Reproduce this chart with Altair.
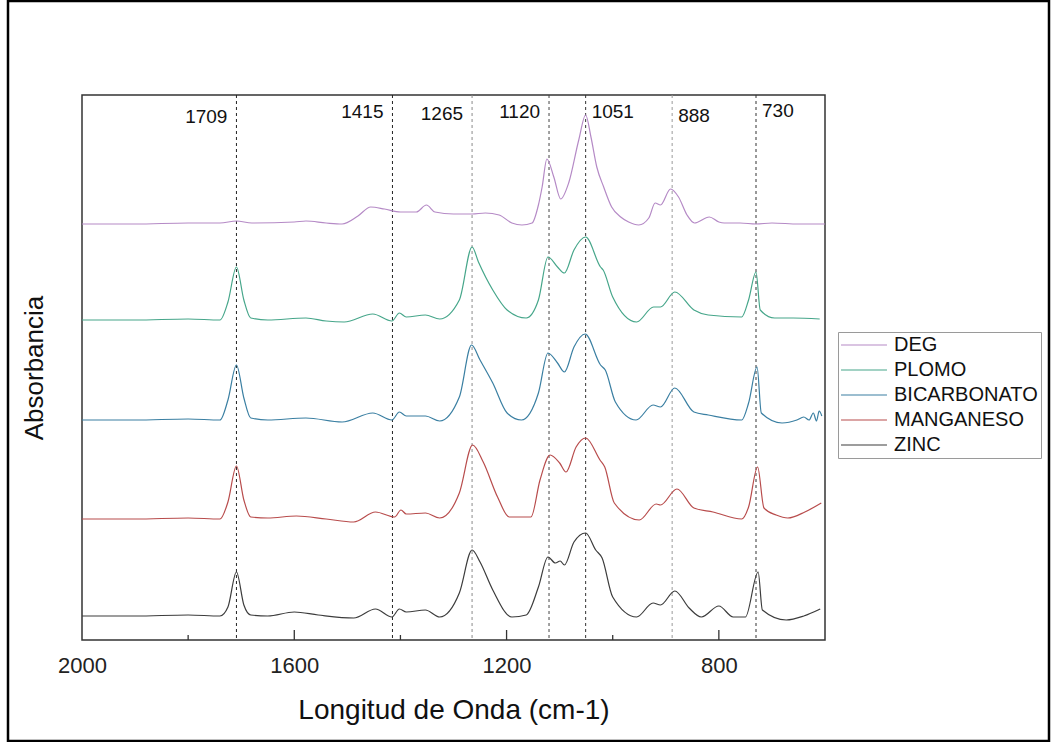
import altair as alt
import pandas as pd

# ---------------- data ----------------
series_names = ["DEG", "PLOMO", "BICARBONATO", "MANGANESO", "ZINC"]
series_colors = ["#b58ac6", "#46a68a", "#3a7fa2", "#b84c4c", "#3c3c3c"]

deg_wn = [2000, 1900, 1800, 1740, 1709, 1680, 1600, 1578, 1540, 1510, 1480, 1456, 1430, 1400,
          1370, 1351, 1335, 1300, 1265, 1240, 1214, 1190, 1171, 1152, 1140, 1133, 1124, 1111,
          1098, 1083, 1064, 1051, 1041, 1030, 1017, 1002, 985, 970, 951, 932, 920, 910, 891,
          876, 860, 846, 818, 800, 790, 760, 730, 700, 650, 600]
deg_abs = [4.16, 4.16, 4.17, 4.17, 4.19, 4.17, 4.18, 4.19, 4.17, 4.16, 4.24, 4.33, 4.31, 4.28,
           4.28, 4.35, 4.28, 4.26, 4.26, 4.27, 4.25, 4.17, 4.15, 4.17, 4.35, 4.53, 4.81, 4.63,
           4.41, 4.57, 5.00, 5.25, 5.03, 4.73, 4.53, 4.33, 4.23, 4.18, 4.15, 4.22, 4.37, 4.35, 4.51,
           4.43, 4.25, 4.17, 4.23, 4.18, 4.17, 4.17, 4.16, 4.17, 4.16, 4.16]

plomo_wn = [2000, 1900, 1800, 1740, 1725, 1709, 1695, 1682, 1650, 1578, 1540, 1506, 1452, 1416,
            1402, 1389, 1353, 1326, 1289, 1265, 1253, 1226, 1199, 1163, 1140, 1122, 1104, 1091,
            1073, 1051, 1023, 1018, 1000, 955, 923, 910, 883, 847, 820, 757, 744, 730, 722, 695,
            660, 610]
plomo_abs = [3.20, 3.20, 3.21, 3.20, 3.38, 3.73, 3.40, 3.22, 3.20, 3.22, 3.19, 3.18, 3.26, 3.19,
             3.27, 3.23, 3.25, 3.21, 3.40, 3.93, 3.78, 3.50, 3.30, 3.22, 3.40, 3.83, 3.73, 3.67,
             3.90, 4.03, 3.73, 3.70, 3.43, 3.18, 3.33, 3.33, 3.48, 3.30, 3.25, 3.23, 3.40, 3.68,
             3.30, 3.22, 3.22, 3.21]

bicarb_wn = [2000, 1900, 1800, 1740, 1725, 1709, 1695, 1682, 1650, 1578, 1510, 1452, 1416, 1402,
             1389, 1353, 1326, 1289, 1266, 1250, 1226, 1199, 1172, 1140, 1122, 1104, 1091, 1073,
             1052, 1023, 1014, 995, 956, 924, 910, 883, 847, 820, 757, 744, 728, 720, 681, 653,
             640, 630, 622, 616, 611, 606]
bicarb_abs = [2.20, 2.20, 2.21, 2.20, 2.40, 2.75, 2.42, 2.22, 2.20, 2.22, 2.18, 2.27, 2.20, 2.28,
              2.24, 2.24, 2.19, 2.43, 2.95, 2.80, 2.57, 2.27, 2.20, 2.47, 2.87, 2.77, 2.68, 2.93,
              3.06, 2.75, 2.70, 2.38, 2.20, 2.35, 2.33, 2.52, 2.28, 2.25, 2.20, 2.37, 2.73, 2.27,
              2.17, 2.20, 2.23, 2.20, 2.27, 2.19, 2.29, 2.24]

mang_wn = [2000, 1900, 1800, 1740, 1725, 1709, 1695, 1682, 1650, 1596, 1540, 1488, 1447, 1411,
           1399, 1389, 1353, 1326, 1289, 1264, 1244, 1217, 1195, 1154, 1137, 1118, 1100, 1088,
           1069, 1051, 1024, 1015, 997, 950, 918, 910, 879, 847, 811, 757, 744, 727, 715, 692,
           670, 638, 607]
mang_abs = [1.21, 1.21, 1.22, 1.21, 1.38, 1.74, 1.40, 1.23, 1.22, 1.24, 1.21, 1.18, 1.28, 1.23,
            1.30, 1.26, 1.27, 1.22, 1.47, 1.95, 1.78, 1.43, 1.23, 1.23, 1.60, 1.85, 1.77, 1.68,
            1.93, 2.02, 1.80, 1.73, 1.37, 1.20, 1.36, 1.35, 1.51, 1.32, 1.28, 1.21, 1.33, 1.73,
            1.32, 1.25, 1.22, 1.28, 1.37]

zinc_wn = [2000, 1900, 1800, 1740, 1725, 1709, 1695, 1682, 1650, 1600, 1555, 1488, 1447, 1416,
           1402, 1389, 1353, 1326, 1289, 1265, 1250, 1226, 1190, 1163, 1140, 1122, 1108, 1099,
           1091, 1073, 1051, 1032, 1020, 1000, 955, 924, 910, 883, 856, 833, 800, 773, 750, 726,
           718, 673, 640, 609]
zinc_abs = [0.24, 0.24, 0.25, 0.24, 0.33, 0.68, 0.35, 0.25, 0.24, 0.28, 0.25, 0.22, 0.31, 0.23,
            0.31, 0.28, 0.30, 0.23, 0.47, 0.90, 0.78, 0.50, 0.23, 0.25, 0.53, 0.83, 0.77, 0.79,
            0.75, 0.98, 1.07, 0.90, 0.82, 0.43, 0.23, 0.37, 0.35, 0.49, 0.32, 0.23, 0.34, 0.23,
            0.23, 0.68, 0.30, 0.20, 0.24, 0.31]

peak_values = [1709, 1415, 1265, 1120, 1051, 888, 730]
peak_labels = ["1709", "1415", "1265", "1120", "1051", "888", "730"]
peak_label_y = [5.23, 5.28, 5.26, 5.28, 5.28, 5.24, 5.29]
peak_side = ["left", "left", "left", "left", "right", "right", "right"]
peak_line_colors = ["#222222", "#222222", "#8a8a8a", "#444444", "#333333", "#9a9a9a", "#333333"]

x_tick_values = [2000, 1600, 1200, 800]
major_ticks = [1600, 1200, 800]
minor_ticks = [1800, 1400, 1000]

# ---------------- build tables ----------------
rows = []
for name, wn, ab in [("DEG", deg_wn, deg_abs), ("PLOMO", plomo_wn, plomo_abs),
                     ("BICARBONATO", bicarb_wn, bicarb_abs), ("MANGANESO", mang_wn, mang_abs),
                     ("ZINC", zinc_wn, zinc_abs)]:
    for w, a in zip(wn, ab):
        rows.append({"serie": name, "wn": w, "abs": a})
spectra = pd.DataFrame(rows)

peaks = pd.DataFrame({"wn": peak_values, "label": peak_labels, "ly": peak_label_y,
                      "side": peak_side, "col": peak_line_colors})
ticks_major = pd.DataFrame({"wn": major_ticks})
ticks_minor = pd.DataFrame({"wn": minor_ticks})

W, H = 743, 545
xscale = alt.Scale(domain=[2000, 600], nice=False, zero=False)
yscale = alt.Scale(domain=[0, 5.45], nice=False, zero=False)

lines = alt.Chart(spectra).mark_line(strokeWidth=1.2, interpolate="monotone").encode(
    x=alt.X("wn:Q", scale=xscale,
            axis=alt.Axis(title="Longitud de Onda (cm-1)", values=x_tick_values, format="d",
                          ticks=False, tickSize=0, domain=False, grid=False,
                          labelFontSize=22, labelFont="Liberation Sans", labelColor="#222222",
                          labelBaseline="alphabetic", labelPadding=32, labelFlush=False,
                          titleFontSize=28, titleFont="Liberation Sans", titleFontWeight="normal",
                          titleColor="#111111", titleBaseline="alphabetic", titleY=78)),
    y=alt.Y("abs:Q", scale=yscale,
            axis=alt.Axis(title="Absorbancia", labels=False, ticks=False, domain=False, grid=False,
                          titleFontSize=26, titleFont="Liberation Sans", titleFontWeight="normal",
                          titleColor="#111111", titleBaseline="middle", titleX=-48)),
    color=alt.Color("serie:N",
                    scale=alt.Scale(domain=series_names, range=series_colors),
                    legend=alt.Legend(title=None, orient="none", legendX=756, legendY=237,
                                      symbolType="M-4,0H4", symbolSize=132, symbolStrokeWidth=1.2,
                                      symbolOffset=13,
                                      labelFontSize=20, labelFont="Liberation Sans",
                                      labelColor="#111111", labelOffset=20, rowPadding=5,
                                      padding=3, strokeColor="#9a9a9a", fillColor="white",
                                      labelLimit=400)),
    detail="serie:N",
)

vlines = alt.Chart(peaks).mark_rule(strokeDash=[3, 3], strokeWidth=1).encode(
    x=alt.X("wn:Q", scale=xscale),
    y=alt.value(0), y2=alt.value(H),
    stroke=alt.Stroke("col:N", scale=None, legend=None),
)

labels_left = alt.Chart(peaks).transform_filter(alt.datum.side == "left").mark_text(
    align="right", baseline="middle", dx=-9, fontSize=19, font="Liberation Sans", color="#111111"
).encode(x=alt.X("wn:Q", scale=xscale), y=alt.Y("ly:Q", scale=yscale), text="label:N")

labels_right = alt.Chart(peaks).transform_filter(alt.datum.side == "right").mark_text(
    align="left", baseline="middle", dx=6, fontSize=19, font="Liberation Sans", color="#111111"
).encode(x=alt.X("wn:Q", scale=xscale), y=alt.Y("ly:Q", scale=yscale), text="label:N")

tmaj = alt.Chart(ticks_major).mark_rule(color="#333333", strokeWidth=1.3).encode(
    x=alt.X("wn:Q", scale=xscale), y=alt.value(H), y2=alt.value(H - 10))
tmin = alt.Chart(ticks_minor).mark_rule(color="#333333", strokeWidth=1.3).encode(
    x=alt.X("wn:Q", scale=xscale), y=alt.value(H), y2=alt.value(H - 5))

frame = alt.Chart(alt.Data(values=[{"a": 1}])).mark_rect(
    filled=False, stroke="#000000", strokeWidth=2.5, fill=None
).encode(x=alt.value(-74), x2=alt.value(967), y=alt.value(-94), y2=alt.value(646))

chart = alt.layer(vlines, lines, labels_left, labels_right, tmaj, tmin, frame).properties(
    width=W, height=H,
    autosize=alt.AutoSizeParams(type="none"),
    padding={"left": 82, "top": 95, "right": 231, "bottom": 102},
    background="white",
).configure_view(stroke="#333333", strokeWidth=1.5)

chart.save("out.html", embed_options={"renderer": "svg", "actions": False})
